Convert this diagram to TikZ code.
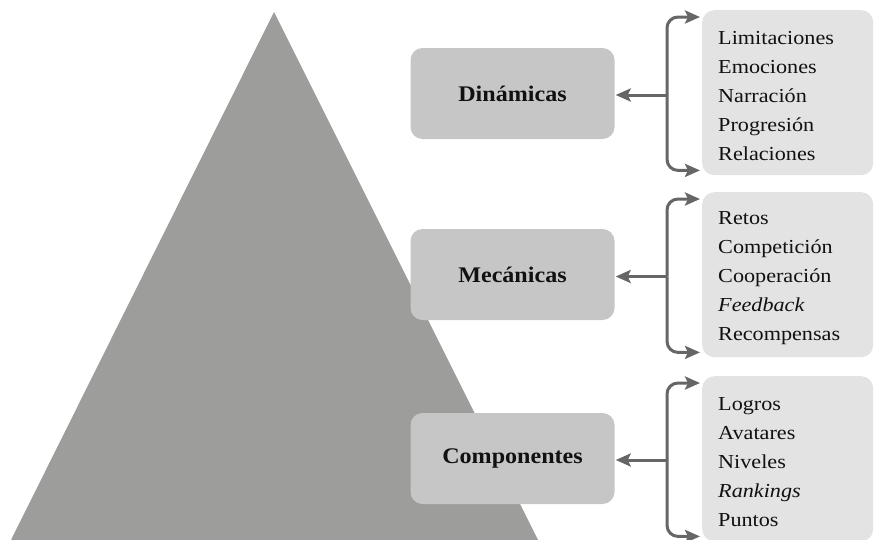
\documentclass[tikz,border=0pt]{standalone}
\usepackage{fontspec}
\setmainfont{Liberation Serif}
\newfontfamily\itemfont[FakeStretch=1.12]{Liberation Serif}
\newfontfamily\levelfont[FakeStretch=1.08]{Liberation Serif}
\usetikzlibrary{arrows.meta}
\definecolor{pyramid}{HTML}{9D9D9C}
\definecolor{levelfill}{HTML}{C6C6C6}
\definecolor{listfill}{HTML}{E3E3E3}
\definecolor{linkgray}{HTML}{666666}
\definecolor{ink}{HTML}{111111}
\tikzset{
  levelbox/.style={fill=levelfill, rounded corners=12pt, minimum width=204pt,
    minimum height=91pt, inner sep=0pt, text=ink,
    font=\levelfont\fontsize{22.3}{26}\selectfont\bfseries},
  listbox/.style={fill=listfill, rounded corners=12pt, anchor=north west,
    minimum height=165pt, text width=139pt, inner xsep=16pt, inner ysep=0pt,
    align=left, text=ink,
    font=\itemfont\fontsize{19.8}{29}\selectfont,
    execute at begin node={\rule{0pt}{19pt}}},
  link/.style={draw=linkgray, line width=3pt,
    -{Stealth[length=15pt,width=13pt,inset=3pt]}},
  bracket/.style={link, rounded corners=11pt, shorten >=2pt},
}
\begin{document}
\begin{tikzpicture}[x=1pt,y=-1pt]
  \useasboundingbox (0,0) rectangle (875,539);
  % pyramid
  \fill[pyramid] (10.5,541) -- (274,12) -- (538.5,541) -- cycle;

  % levels
  \node[levelbox] (dyn) at (512.5,93.5) {Dinámicas};
  \node[levelbox] (mec) at (512.5,274.5) {Mecánicas};
  \node[levelbox] (com) at (512.5,458.5) {Componentes};

  % element lists
  \node[listbox] (dynlist) at (702,10) {Limitaciones\\Emociones\\Narración\\Progresión\\Relaciones};
  \node[listbox] (meclist) at (702,192) {Retos\\Competición\\Cooperación\\\textit{Feedback}\\Recompensas};
  \node[listbox] (comlist) at (702,376) {Logros\\Avatares\\Niveles\\\textit{Rankings}\\Puntos};

  % junction points of the brackets
  \coordinate (dynj) at (667,95);
  \coordinate (mecj) at (667,276.5);
  \coordinate (comj) at (667,460);

  \foreach \lvl/\lst in {dyn/dynlist, mec/meclist, com/comlist}{
    \draw[link, shorten >=1pt] (\lvl j) -- (\lvl.east |- \lvl j);
    \draw[bracket] (\lvl j) |- ([yshift=-7pt]\lst.north west);
    \draw[bracket] (\lvl j) |- ([yshift=5pt]\lst.south west);
  }
\end{tikzpicture}
\end{document}
